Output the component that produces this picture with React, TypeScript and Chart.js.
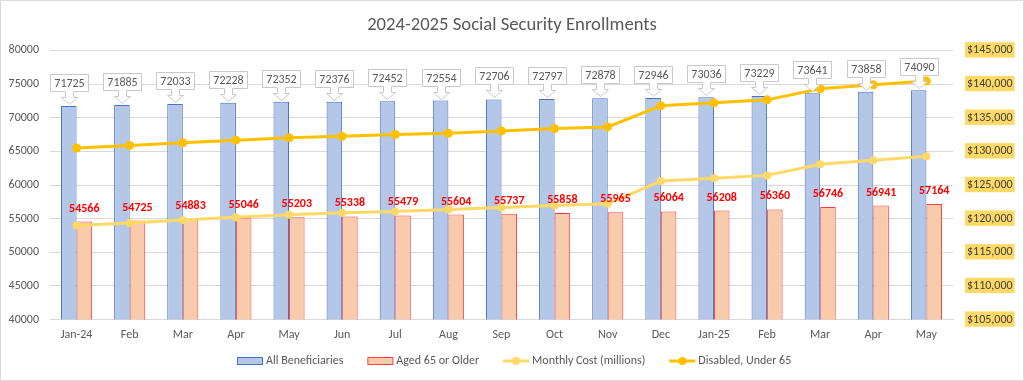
import React, { useEffect, useRef } from 'react';
import { Chart, registerables } from 'chart.js';
Chart.register(...registerables);

const categories = ['Jan-24', 'Feb', 'Mar', 'Apr', 'May', 'Jun', 'Jul', 'Aug', 'Sep', 'Oct', 'Nov', 'Dec', 'Jan-25', 'Feb', 'Mar', 'Apr', 'May'];
const allBeneficiaries = [71725, 71885, 72033, 72228, 72352, 72376, 72452, 72554, 72706, 72797, 72878, 72946, 73036, 73229, 73641, 73858, 74090];
const aged65OrOlder = [54566, 54725, 54883, 55046, 55203, 55338, 55479, 55604, 55737, 55858, 55965, 56064, 56208, 56360, 56746, 56941, 57164];
const monthlyCost = [118970, 119370, 119810, 120190, 120590, 120880, 121070, 121370, 121660, 121960, 122210, 125590, 125990, 126430, 128090, 128680, 129270];
const disabledUnder65 = [130490, 130880, 131280, 131660, 132020, 132250, 132500, 132690, 133040, 133380, 133630, 136770, 137210, 137650, 139310, 139900, 140440];
const leftTicks = { min: 40000, max: 80000, step: 5000 };
const rightTicks = { min: 105000, max: 145000, step: 5000 };
const legendLabels = ['All Beneficiaries', 'Aged 65 or Older', 'Monthly Cost (millions)', 'Disabled, Under 65'];

const FONT = 'Carlito, Lato, "Open Sans", sans-serif';
const TEXT = '#595959';
const BLUE_FILL = '#B4C7E7';
const BLUE_LINE = '#4472C4';
const ORANGE_FILL = '#F8CBAD';
const ORANGE_LINE = '#FF4040';
const COST = '#FFD966';
const DIS = '#FFC000';

export default function App() {
  const ref = useRef<HTMLCanvasElement>(null);
  useEffect(() => {
    document.body.style.margin = '0';
    const canvas = ref.current!;
    const plugin = {
      id: 'custom',
      beforeDraw(chart: any) {
        const c = chart.ctx;
        c.save();
        c.fillStyle = '#fff';
        c.fillRect(0, 0, chart.width, chart.height);
        c.restore();
      },
      afterDatasetsDraw(chart: any) {
        const c = chart.ctx;
        c.save();
        const m0 = chart.getDatasetMeta(0);
        m0.data.forEach((el: any, i: number) => {
          const x = Math.round(el.x) + 0.5;
          const top = el.y;
          const txt = String(allBeneficiaries[i]);
          c.font = `12px ${FONT}`;
          const tw = c.measureText(txt).width;
          const w = Math.round(tw + 8);
          const h = 17;
          const tip = Math.round(top - 2) + 0.5;
          const bb = tip - 13;
          const bt = bb - h;
          c.beginPath();
          c.moveTo(x - w / 2, bt);
          c.lineTo(x + w / 2, bt);
          c.lineTo(x + w / 2, bb);
          c.lineTo(x + 4, bb);
          c.lineTo(x + 4, bb + 6);
          c.lineTo(x + 8, bb + 6);
          c.lineTo(x, tip);
          c.lineTo(x - 8, bb + 6);
          c.lineTo(x - 4, bb + 6);
          c.lineTo(x - 4, bb);
          c.lineTo(x - w / 2, bb);
          c.closePath();
          c.fillStyle = '#fff';
          c.fill();
          c.strokeStyle = '#C9C9C9';
          c.lineWidth = 1;
          c.stroke();
          c.fillStyle = TEXT;
          c.textAlign = 'center';
          c.textBaseline = 'middle';
          c.fillText(txt, x, bt + h / 2 + 0.5);
        });
        const m1 = chart.getDatasetMeta(1);
        m1.data.forEach((el: any, i: number) => {
          c.font = `bold 12px ${FONT}`;
          c.fillStyle = '#FF0000';
          c.textAlign = 'center';
          c.textBaseline = 'middle';
          c.fillText(String(aged65OrOlder[i]), el.x, el.y - 13);
        });
        c.restore();
      },
      afterDraw(chart: any) {
        const c = chart.ctx;
        c.save();
        c.font = `12px ${FONT}`;
        const sym = 26, gap = 3, space = 24;
        const widths = legendLabels.map((t) => sym + gap + c.measureText(t).width);
        const total = widths.reduce((a, b) => a + b, 0) + space * (legendLabels.length - 1);
        let x = Math.round(chart.width / 2 + 2 - total / 2);
        const cy = 361;
        legendLabels.forEach((t, i) => {
          if (i < 2) {
            c.fillStyle = i === 0 ? BLUE_FILL : ORANGE_FILL;
            c.strokeStyle = i === 0 ? BLUE_LINE : ORANGE_LINE;
            c.lineWidth = 1;
            c.fillRect(x + 0.5, cy - 3.5, sym - 1, 7);
            c.strokeRect(x + 0.5, cy - 3.5, sym - 1, 7);
          } else {
            const col = i === 2 ? COST : DIS;
            c.strokeStyle = col;
            c.lineWidth = 3;
            c.beginPath();
            c.moveTo(x, cy);
            c.lineTo(x + sym, cy);
            c.stroke();
            c.fillStyle = col;
            c.beginPath();
            c.arc(x + sym / 2, cy, 4, 0, Math.PI * 2);
            c.fill();
          }
          c.fillStyle = TEXT;
          c.textAlign = 'left';
          c.textBaseline = 'middle';
          c.fillText(t, x + sym + gap, cy);
          x += widths[i] + space;
        });
        c.strokeStyle = '#D9D9D9';
        c.lineWidth = 1;
        c.strokeRect(0.5, 0.5, chart.width - 1, chart.height - 1);
        c.restore();
      },
    };

    const chart = new Chart(canvas, {
      type: 'bar',
      data: {
        labels: categories,
        datasets: [
          {
            type: 'bar',
            label: legendLabels[0],
            data: allBeneficiaries,
            backgroundColor: BLUE_FILL,
            borderColor: BLUE_LINE,
            borderWidth: 1,
            yAxisID: 'y',
            order: 2,
            categoryPercentage: 0.585,
            barPercentage: 1,
          },
          {
            type: 'bar',
            label: legendLabels[1],
            data: aged65OrOlder,
            backgroundColor: ORANGE_FILL,
            borderColor: ORANGE_LINE,
            borderWidth: 1,
            yAxisID: 'y',
            order: 2,
            categoryPercentage: 0.585,
            barPercentage: 1,
          },
          {
            type: 'line',
            label: legendLabels[2],
            data: monthlyCost,
            borderColor: COST,
            backgroundColor: COST,
            borderWidth: 3,
            pointRadius: 4,
            pointBorderWidth: 0,
            yAxisID: 'y1',
            order: 1,
            tension: 0,
          },
          {
            type: 'line',
            label: legendLabels[3],
            data: disabledUnder65,
            borderColor: DIS,
            backgroundColor: DIS,
            borderWidth: 3,
            pointRadius: 4.5,
            pointBorderWidth: 0,
            yAxisID: 'y1',
            order: 0,
            tension: 0,
          },
        ],
      } as any,
      options: {
        responsive: false,
        animation: false,
        devicePixelRatio: 1,
        layout: { padding: { top: 0, left: 0, right: 0, bottom: 31 } },
        plugins: {
          legend: { display: false },
          tooltip: { enabled: false },
          title: {
            display: true,
            text: '2024-2025 Social Security Enrollments',
            color: TEXT,
            font: { family: FONT, size: 18.67, weight: 'normal' },
            padding: { top: 14, bottom: 14 },
          },
        },
        scales: {
          x: {
            grid: { display: false, drawTicks: false },
            border: { color: '#D9D9D9' },
            ticks: { color: TEXT, font: { family: FONT, size: 12 }, padding: 8, maxRotation: 0, autoSkip: false },
          },
          y: {
            position: 'left',
            min: leftTicks.min,
            max: leftTicks.max,
            ticks: { stepSize: leftTicks.step, color: TEXT, font: { family: FONT, size: 12 }, padding: 11, callback: (v: any) => String(v) },
            grid: { color: '#D9D9D9', drawTicks: false },
            border: { display: false },
            afterFit: (s: any) => { s.width = 50; },
          },
          y1: {
            position: 'right',
            min: rightTicks.min,
            max: rightTicks.max,
            ticks: {
              stepSize: rightTicks.step,
              color: '#404040',
              font: { family: FONT, size: 12 },
              padding: 14,
              showLabelBackdrop: true,
              backdropColor: COST,
              backdropPadding: { top: 1, bottom: 0, left: 2, right: 2 },
              callback: (v: any) => '$' + Number(v).toLocaleString('en-US'),
            },
            grid: { drawOnChartArea: false, drawTicks: false },
            border: { display: false },
            afterFit: (s: any) => { s.width = 71; },
          },
        },
      } as any,
      plugins: [plugin],
    });
    return () => chart.destroy();
  }, []);
  return (
    <div style={{ width: 1024, height: 381 }}>
      <canvas ref={ref} width={1024} height={381} style={{ display: 'block' }} />
    </div>
  );
}
